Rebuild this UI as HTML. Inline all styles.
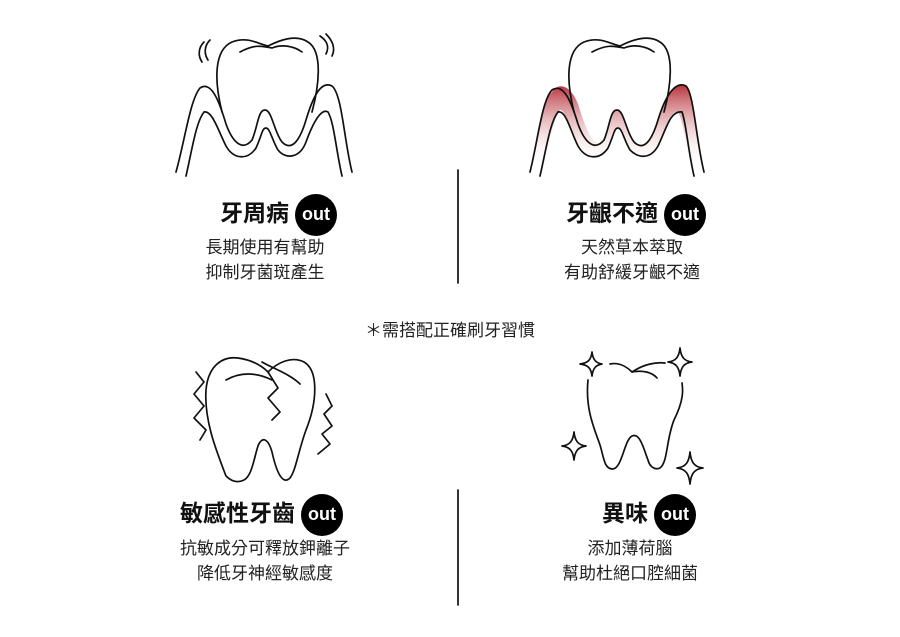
<!DOCTYPE html>
<html><head><meta charset="utf-8"><style>
html,body{margin:0;padding:0;background:#fff;}
body{width:900px;height:637px;position:relative;overflow:hidden;font-family:"Liberation Sans","Noto Sans CJK TC",sans-serif;color:#222;}
.t{position:absolute;font-weight:bold;font-size:23px;line-height:30px;white-space:nowrap;color:#111;}
.o{display:inline-block;width:42px;height:42px;border-radius:50%;background:#000;color:#fff;font-size:18px;line-height:40px;text-align:center;vertical-align:middle;margin-left:6px;font-family:"Liberation Sans",sans-serif;}
.s{position:absolute;font-size:17px;line-height:25px;text-align:center;white-space:nowrap;color:#222;}
svg{position:absolute;left:0;top:0;}
</style></head><body>
<svg width="900" height="637" viewBox="0 0 900 637" fill="none" stroke="#111" stroke-width="1.7" stroke-linecap="round" stroke-linejoin="round">
<defs>
<linearGradient id="g" x1="0" y1="0" x2="0" y2="1">
<stop offset="0" stop-color="#b8323c"/><stop offset="0.9" stop-color="#fff" stop-opacity="0"/></linearGradient>
</defs>
<g>
<path d="M222,112 C214,80 214,50 232,42 C248,36 258,44 268,46 C280,40 296,34 308,42 C324,52 318,90 312,112"/>
<path d="M240,52 C255,44 262,46 272,48 C282,44 294,46 302,52"/>
<path d="M176,172 C185,140 190,100 200,88 C212,80 220,104 226,124 C234,146 244,150 252,140 C258,126 258,110 265,110 C272,110 274,132 282,142 C292,152 300,140 306,120 C312,100 320,80 332,86 C342,94 344,140 352,172"/>
<path d="M186,176 C192,150 196,122 204,112 C212,110 218,130 226,146 C234,160 248,160 256,148 C262,135 262,128 266,128 C270,128 272,140 278,150 C286,160 300,158 306,142 C314,120 322,108 328,112 C334,122 336,150 342,176"/>
<path d="M204,42 C198,48 198,56 202,62"/><path d="M210,40 C204,46 204,54 208,60"/>
<path d="M320,36 C326,40 330,46 326,54"/><path d="M326,34 C332,40 336,48 332,56"/>
</g>
<g>
<path d="M552,92 C560,80 572,88 578,104 C586,130 594,150 604,140 C610,126 610,110 617,110 C624,110 626,132 634,142 C644,152 652,140 658,120 C664,100 674,80 686,86 C694,94 696,140 702,172 L692,176 C686,150 684,122 678,112 C670,110 666,130 658,146 C650,160 638,158 630,150 C624,140 622,128 618,128 C614,128 614,135 608,148 C600,160 586,160 578,146 C570,130 566,110 560,110 C552,120 548,150 542,176 L530,172 C536,140 542,100 552,92Z" fill="url(#g)" stroke="none"/>
<path d="M574,112 C566,80 566,50 584,42 C600,36 610,44 620,46 C632,40 648,34 660,42 C676,52 670,90 664,112"/>
<path d="M592,52 C607,44 614,46 624,48 C634,44 646,46 654,52"/>
<path d="M530,172 C538,140 542,100 552,90 C564,82 572,104 578,124 C586,146 596,150 604,140 C610,126 610,110 617,110 C624,110 626,132 634,142 C644,152 652,140 658,120 C664,100 674,80 686,86 C694,94 696,140 704,172"/>
<path d="M540,176 C546,150 550,122 558,112"/><path d="M682,112 C686,122 688,150 694,176"/>
<path d="M558,112 C566,110 570,130 578,146 C586,160 600,160 608,148 C614,135 614,128 618,128 C622,128 624,140 630,150 C638,158 650,160 658,146 C666,130 670,110 682,112"/>
</g>
<g>
<path d="M226,476 C216,450 204,420 206,390 C208,366 222,356 238,358 C252,360 262,366 268,372 C278,362 292,356 304,362 C318,370 318,400 306,430 C298,452 296,470 290,478 C282,486 276,470 272,452 C268,438 262,436 258,446 C254,458 252,476 244,480 C236,484 230,480 226,476Z"/>
<path d="M226,380 C240,372 256,372 272,380"/>
<path d="M262,362 C272,368 290,374 300,384"/>
<path d="M268,372 L278,388 L268,398 L280,412 L272,420"/>
<path d="M196,372 L204,382 L194,394 L204,406 L194,418 L206,430 L200,440"/>
<path d="M326,394 L332,406 L324,414 L332,426 L322,434 L330,444 L318,454"/>
</g>
<g>
<path d="M588,380 C585,410 595,430 600,445 C604,458 604,468 612,469 C622,470 624,440 632,436 C640,432 644,450 648,460 C650,468 656,470 660,468 C668,462 666,440 674,420 C684,400 683,390 682,383"/>
<path d="M610,364 C620,362 628,368 632,372 C644,364 656,362 665,363"/>
<path d="M632,372 C642,370 652,372 657,378"/>
<path d="M592,352 C593,360 596,363 602,364 C596,365 593,368 592,376 C591,368 588,365 580,364 C588,363 591,360 592,352Z"/>
<path d="M680,348 C681,357 684,361 692,362 C684,363 681,367 680,376 C679,367 676,363 668,362 C676,361 679,357 680,348Z"/>
<path d="M574,432 C575,441 578,445 586,446 C578,447 575,451 574,460 C573,451 570,447 562,446 C570,445 573,441 574,432Z"/>
<path d="M690,452 C691,462 694,467 703,468 C694,469 691,474 690,484 C689,474 686,469 677,468 C686,467 689,462 690,452Z"/>
</g>
<line x1="458" y1="170" x2="458" y2="283"/>
<line x1="458" y1="490" x2="458" y2="605"/>
</svg>

<div class="t" style="left:220px;top:194px;">牙周病<span class="o">out</span></div>
<div class="s" style="left:165px;width:200px;top:235px;">長期使用有幫助<br>抑制牙菌斑產生</div>

<div class="t" style="left:566px;top:194px;">牙齦不適<span class="o">out</span></div>
<div class="s" style="left:532px;width:200px;top:235px;">天然草本萃取<br>有助舒緩牙齦不適</div>

<div class="s" style="left:300px;width:300px;top:318px;">＊需搭配正確刷牙習慣</div>

<div class="t" style="left:180px;top:494px;">敏感性牙齒<span class="o">out</span></div>
<div class="s" style="left:155px;width:220px;top:536px;">抗敏成分可釋放鉀離子<br>降低牙神經敏感度</div>

<div class="t" style="left:602px;top:494px;">異味<span class="o">out</span></div>
<div class="s" style="left:530px;width:200px;top:536px;">添加薄荷腦<br>幫助杜絕口腔細菌</div>
</body></html>
